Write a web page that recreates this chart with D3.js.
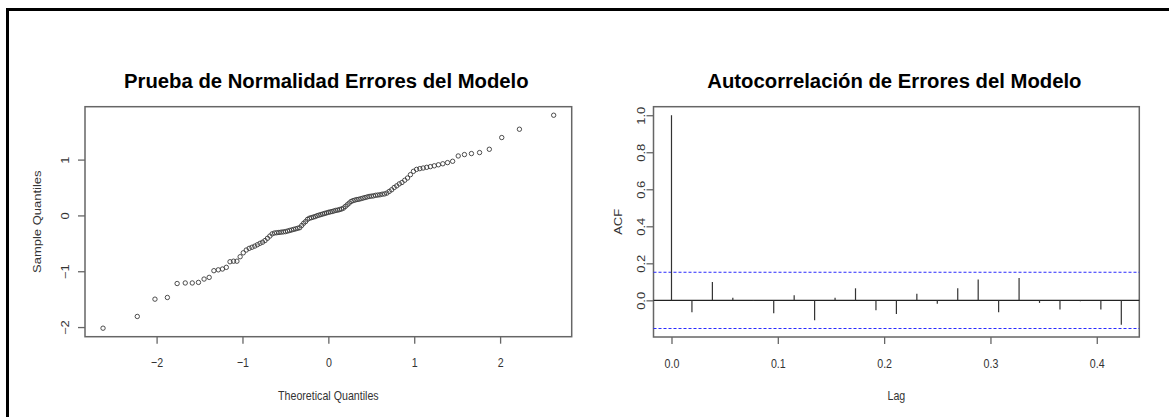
<!DOCTYPE html>
<html>
<head>
<meta charset="utf-8">
<script src="https://cdn.jsdelivr.net/npm/d3@7"></script>
<style>
  body { margin: 0; background: #fff; }
  svg { display: block; font-family: "Liberation Sans", Arial, sans-serif; }
  .axisText { fill: #333; font-size: 13px; }
  .title { font-weight: bold; font-size: 20.3px; fill: #000; }
</style>
</head>
<body>
<div id="chart"></div>
<script>
// sorted model residuals (sample quantiles)
const sampleQuantiles = [
  -2.02, -1.81, -1.50, -1.47, -1.22, -1.21, -1.21, -1.20, -1.14, -1.11,
  -0.99, -0.975, -0.96, -0.93, -0.83, -0.82, -0.82, -0.74, -0.67, -0.62,
  -0.59, -0.57, -0.55, -0.525, -0.50, -0.48, -0.45, -0.41, -0.37, -0.33,
  -0.315, -0.31, -0.305, -0.30, -0.295, -0.29, -0.28, -0.27, -0.26, -0.25,
  -0.24, -0.23, -0.22, -0.18, -0.14, -0.11, -0.07, -0.05, -0.04, -0.03,
  -0.02, -0.005, 0.005, 0.015, 0.025, 0.035, 0.045, 0.055, 0.063, 0.07,
  0.08, 0.09, 0.095, 0.105, 0.115, 0.13, 0.16, 0.19, 0.22, 0.25,
  0.265, 0.275, 0.285, 0.29, 0.30, 0.31, 0.32, 0.33, 0.34, 0.345,
  0.35, 0.36, 0.365, 0.37, 0.38, 0.385, 0.40, 0.43, 0.46, 0.50,
  0.53, 0.565, 0.59, 0.63, 0.67, 0.73, 0.79, 0.825, 0.838, 0.849,
  0.862, 0.874, 0.889, 0.907, 0.925, 0.946, 0.97, 1.065, 1.09, 1.108,
  1.126, 1.185, 1.395, 1.544, 1.795
];
const qqXTicks = [-2, -1, 0, 1, 2];
const qqYTicks = [-2, -1, 0, 1];

// autocorrelation of residuals, lag 0..22 (weekly series, frequency 52)
const acfValues = [
  1.0, -0.065, 0.099, 0.014, -0.004, -0.070, 0.027, -0.108, 0.014, 0.065,
  -0.054, -0.074, 0.036, -0.018, 0.065, 0.112, -0.065, 0.121, -0.014, -0.049,
  -0.005, -0.049, -0.132
];
const seriesFrequency = 52;
const ciBound = 0.152;
const acfXTicks = [0, 0.1, 0.2, 0.3, 0.4];
const acfYTicks = [0, 0.2, 0.4, 0.6, 0.8, 1.0];

const titles = ["Prueba de Normalidad Errores del Modelo", "Autocorrelación de Errores del Modelo"];

const width = 1169, height = 417;
const squeeze = 0.82;  // axis text in the source image is narrowed horizontally
const tickLen = 7;

// inverse normal cdf (Acklam), used for theoretical quantiles like qqnorm
function qnorm(p) {
  const a = [-3.969683028665376e+01, 2.209460984245205e+02, -2.759285104469687e+02, 1.383577518672690e+02, -3.066479806614716e+01, 2.506628277459239e+00];
  const b = [-5.447609879822406e+01, 1.615858368580409e+02, -1.556989798598866e+02, 6.680131188771972e+01, -1.328068155288572e+01];
  const c = [-7.784894002430293e-03, -3.223964580411365e-01, -2.400758277161838e+00, -2.549732539343734e+00, 4.374664141464968e+00, 2.938163982698783e+00];
  const d = [7.784695709041462e-03, 3.224671290700398e-01, 2.445134137142996e+00, 3.754408661907416e+00];
  const pl = 0.02425;
  if (p < pl) {
    const q = Math.sqrt(-2 * Math.log(p));
    return (((((c[0]*q+c[1])*q+c[2])*q+c[3])*q+c[4])*q+c[5]) / ((((d[0]*q+d[1])*q+d[2])*q+d[3])*q+1);
  }
  if (p > 1 - pl) {
    const q = Math.sqrt(-2 * Math.log(1 - p));
    return -(((((c[0]*q+c[1])*q+c[2])*q+c[3])*q+c[4])*q+c[5]) / ((((d[0]*q+d[1])*q+d[2])*q+d[3])*q+1);
  }
  const q = p - 0.5, r = q * q;
  return (((((a[0]*r+a[1])*r+a[2])*r+a[3])*r+a[4])*r+a[5])*q / (((((b[0]*r+b[1])*r+b[2])*r+b[3])*r+b[4])*r+1);
}

// R style axis extent: data range plus 4% each side
function padded(ext) {
  const pad = (ext[1] - ext[0]) * 0.04;
  return [ext[0] - pad, ext[1] + pad];
}

const svg = d3.select("#chart").append("svg")
  .attr("width", width)
  .attr("height", height);

// frame of the screenshot (left and top edges)
svg.append("line").attr("x1", 7.5).attr("x2", 7.5).attr("y1", 8).attr("y2", height).attr("stroke", "#000").attr("stroke-width", 3);
svg.append("line").attr("x1", 6).attr("x2", width).attr("y1", 9.5).attr("y2", 9.5).attr("stroke", "#000").attr("stroke-width", 3);

function squeezedText(g, x, y, rotate, txt) {
  return g.append("text")
    .attr("class", "axisText")
    .attr("text-anchor", "middle")
    .attr("dy", "0.35em")
    .attr("transform", `translate(${x},${y}) scale(${squeeze},1)` + (rotate ? " rotate(-90)" : ""))
    .text(txt);
}

function drawPanel(p) {
  const g = svg.append("g");
  const x = d3.scaleLinear().domain(p.xDomain).range([p.left, p.right]);
  const y = d3.scaleLinear().domain(p.yDomain).range([p.bottom, p.top]);

  // ticks
  const xAxis = g.append("g")
    .attr("transform", `translate(0,${p.bottom})`)
    .call(d3.axisBottom(x).tickValues(p.xTicks).tickSize(tickLen).tickSizeOuter(0).tickFormat(p.xFormat));
  const yAxis = g.append("g")
    .attr("transform", `translate(${p.left},0)`)
    .call(d3.axisLeft(y).tickValues(p.yTicks).tickSize(tickLen).tickSizeOuter(0).tickFormat(p.yFormat));
  [xAxis, yAxis].forEach(ax => {
    ax.select(".domain").remove();
    ax.selectAll(".tick line").attr("stroke", "#666").attr("stroke-width", 1.3);
    ax.selectAll(".tick text").remove();
  });
  xAxis.selectAll(".tick").each(function(d) {
    squeezedText(d3.select(this), 0, 26, false, p.xFormat(d));
  });
  yAxis.selectAll(".tick").each(function(d) {
    squeezedText(d3.select(this), -p.yLabelOffset, 0, true, p.yFormat(d));
  });

  // box
  g.append("rect")
    .attr("x", p.left).attr("y", p.top)
    .attr("width", p.right - p.left).attr("height", p.bottom - p.top)
    .attr("fill", "none").attr("stroke", "#666").attr("stroke-width", 1.5);

  // labels
  const cx = (p.left + p.right) / 2, cy = (p.top + p.bottom) / 2;
  squeezedText(svg, cx, 395, false, p.xLabel);
  squeezedText(svg, p.yTitleX, cy, true, p.yLabel);
  svg.append("text")
    .attr("class", "title")
    .attr("text-anchor", "middle")
    .attr("x", cx - 2).attr("y", 88)
    .text(p.title);

  return {g, x, y};
}

// ---- Q-Q plot ----
const n = sampleQuantiles.length;
const qqData = sampleQuantiles.map((v, i) => ({theo: qnorm((i + 1 - 0.5) / n), sample: v}));

const qq = drawPanel({
  left: 85, right: 571.7, top: 106.7, bottom: 336.7,
  xDomain: padded(d3.extent(qqData, d => d.theo)),
  yDomain: padded(d3.extent(qqData, d => d.sample)),
  xTicks: qqXTicks, yTicks: qqYTicks,
  xFormat: d3.format("d"), yFormat: d3.format("d"),
  yLabelOffset: 20, yTitleX: 37,
  xLabel: "Theoretical Quantiles", yLabel: "Sample Quantiles",
  title: titles[0]
});

qq.g.selectAll(".pt")
  .data(qqData)
  .join("circle")
  .attr("class", "pt")
  .attr("cx", d => qq.x(d.theo))
  .attr("cy", d => qq.y(d.sample))
  .attr("r", 2.2)
  .attr("fill", "none")
  .attr("stroke", "#3a3a3a")
  .attr("stroke-width", 0.9);

// ---- ACF plot ----
const acfData = acfValues.map((v, i) => ({lag: i / seriesFrequency, acf: v}));

const ac = drawPanel({
  left: 653.5, right: 1139.3, top: 106.7, bottom: 337,
  xDomain: padded(d3.extent(acfData, d => d.lag)),
  yDomain: padded([Math.min(d3.min(acfValues), -ciBound), Math.max(d3.max(acfValues), ciBound)]),
  xTicks: acfXTicks, yTicks: acfYTicks,
  xFormat: d3.format(".1f"), yFormat: d3.format(".1f"),
  yLabelOffset: 12, yTitleX: 618,
  xLabel: "Lag", yLabel: "ACF",
  title: titles[1]
});

ac.g.selectAll(".ciLine")
  .data([ciBound, -ciBound])
  .join("line")
  .attr("class", "ciLine")
  .attr("x1", 653.5).attr("x2", 1139.3)
  .attr("y1", d => ac.y(d)).attr("y2", d => ac.y(d))
  .attr("stroke", "#2a2aff")
  .attr("stroke-width", 1.1)
  .attr("stroke-dasharray", "3,2");

ac.g.append("line")
  .attr("x1", 653.5).attr("x2", 1139.3)
  .attr("y1", ac.y(0)).attr("y2", ac.y(0))
  .attr("stroke", "#222").attr("stroke-width", 1.3);

ac.g.selectAll(".bar")
  .data(acfData)
  .join("line")
  .attr("class", "bar")
  .attr("x1", d => ac.x(d.lag)).attr("x2", d => ac.x(d.lag))
  .attr("y1", ac.y(0)).attr("y2", d => ac.y(d.acf))
  .attr("stroke", "#333")
  .attr("stroke-width", 1.2);
</script>
</body>
</html>
